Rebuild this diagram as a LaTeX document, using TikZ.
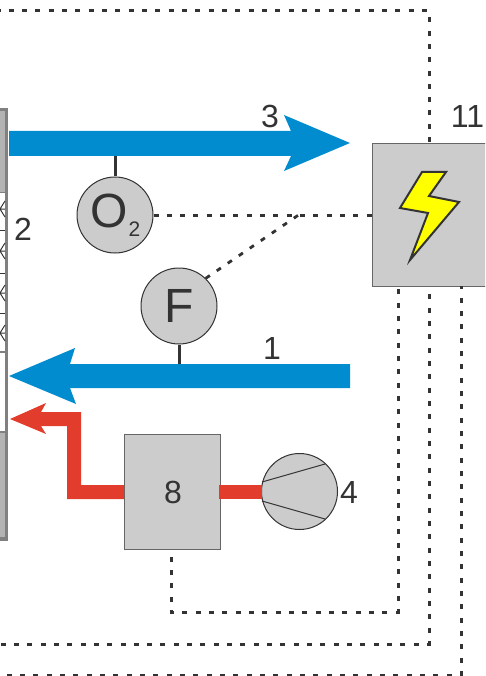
\documentclass[tikz,border=0pt]{standalone}
\usepackage{fontspec}
\setmainfont{Liberation Sans}
\definecolor{flowblue}{HTML}{008CCF}
\definecolor{flowred}{HTML}{E23D2C}
\definecolor{unitgray}{HTML}{CCCCCC}
\definecolor{wallgray}{HTML}{808080}
\definecolor{wallfill}{HTML}{B3B3B3}
\definecolor{ink}{HTML}{333333}
\definecolor{bolt}{HTML}{FFFF00}
\tikzset{
  x=1pt,y=-1pt,
  unitbox/.style={draw=ink!75!white,fill=unitgray,line width=1pt},
  gauge/.style={circle,draw=ink,fill=unitgray,line width=1pt,minimum size=76pt,inner sep=0pt},
  ctrl/.style={draw=ink,line width=3pt,dash pattern=on 5pt off 8.33pt},
  diag/.style={draw=ink,line width=2.8pt,dash pattern=on 5pt off 8.33pt},
  stem/.style={draw=ink,line width=3pt},
  lbl/.style={text=ink,inner sep=0pt,font=\fontsize{32}{32}\selectfont},
  big/.style={text=ink,inner sep=0pt,font=\fontsize{48}{48}\selectfont},
  wall/.style={draw=wallgray,line width=3.4pt},
  thinw/.style={draw=ink,line width=1pt},
}
\begin{document}
\begin{tikzpicture}
\useasboundingbox (0,0) rectangle (485,676);
\clip (0,0) rectangle (485,676);
% wall
\fill[wallfill] (0,110) rectangle (5,192);
\fill[wallfill] (0,432) rectangle (5,538);
\draw[wall] (0,109.5) -- (6.6,109.5) -- (6.6,539) -- (0,539);
\draw[wallgray,line width=1.6pt] (0,192.5) -- (5,192.5);
\draw[wallgray,line width=1.6pt] (0,352) -- (5,352);
\draw[wallgray,line width=2pt] (0,431.5) -- (5,431.5);
\foreach \yy in {230,273,313} \draw[thinw] (0,\yy) -- (5,\yy);
\foreach \yy in {209,251,293,333}
  \draw[thinw] (5,\yy-8) -- (0,\yy) -- (5,\yy+8) (0,\yy) -- (5,\yy);
% control lines
\coordinate (ctrlA) at (429,11);
\coordinate (ctrlB) at (0,11);
\coordinate (ctrlC) at (0,644);
\coordinate (ctrlD) at (429,644);
\coordinate (ctrlE) at (461,675);
\coordinate (ctrlF) at (0,675);
\coordinate (ctrlG) at (398,612);
\coordinate (ctrlH) at (171,612);
\coordinate (ctrlI) at (300,214);
% units
\node[unitbox,minimum width=118pt,minimum height=143pt,inner sep=0pt,anchor=north west] (ctl) at (372,143) {};
\node[unitbox,minimum width=96pt,minimum height=115pt,inner sep=0pt,anchor=north west] (eight) at (124,434) {};
\node[gauge] (oxy) at (115,215) {};
\node[gauge] (flow) at (179,306) {};
\node[gauge] (comp) at (299.5,491.5) {};
\coordinate (top3) at (115,156);
\coordinate (bot1) at (179,364);
\draw[stem] (top3) -- (oxy);
\draw[stem] (flow) -- (bot1);
\draw[ctrl,dash phase=4.7pt] (ctrlB) -- (ctrlA) -- (429,143);
\draw[ctrl,dash phase=5pt] (429,286) -- (ctrlD) -- (ctrlC);
\draw[ctrl,dash phase=1.6pt] (461,286) -- (ctrlE) -- (ctrlF);
\draw[ctrl,dash phase=10pt] (398,286) -- (ctrlG) -- (ctrlH) -- (eight.south -| ctrlH);
\draw[ctrl] (oxy) -- (ctl.west |- oxy);
\draw[diag] (flow.46) -- (ctrlI);
% arrows
\fill[flowblue] (9,131) -- (291,131) -- (284,115) -- (350,143) -- (284,171) -- (291,156) -- (9,156) -- cycle;
\fill[flowblue] (350,364) -- (70,364) -- (75,348) -- (9,376) -- (76,404) -- (70,388) -- (350,388) -- cycle;
\fill[flowred] (124,485) -- (81,485) -- (81,412) -- (41,412) -- (46,403) -- (10,419) -- (46,434) -- (41,426) -- (67,426) -- (67,499) -- (124,499) -- cycle;
\fill[flowred] (219,485) rectangle (262,498.5);
\draw[ink,line width=1pt] (262,482) -- (325,464) (262,501) -- (325,519);
% bolt
\draw[ink,fill=bolt,line width=2pt,line join=miter] (422,172) -- (446,172) -- (429,196) -- (459,202) -- (410,260) -- (428,213) -- (400,208) -- cycle;
% labels
\node[lbl] (l3) at (270,116) {3};
\node[lbl] (l11) at (467.5,116) {11};
\node[lbl] (l2) at (23,229) {2};
\node[lbl] (l1) at (272,348) {1};
\node[lbl] (l8) at (173,492) {8};
\node[lbl] (l4) at (349,492) {4};
\node[big] (lF) at (179,306) {F};
\node[big,anchor=center] (lO) at (109,210.5) {O};
\node[text=ink,inner sep=0pt,font=\fontsize{21}{21}\selectfont] (lsub) at (134.5,229.5) {2};
\end{tikzpicture}
\end{document}
